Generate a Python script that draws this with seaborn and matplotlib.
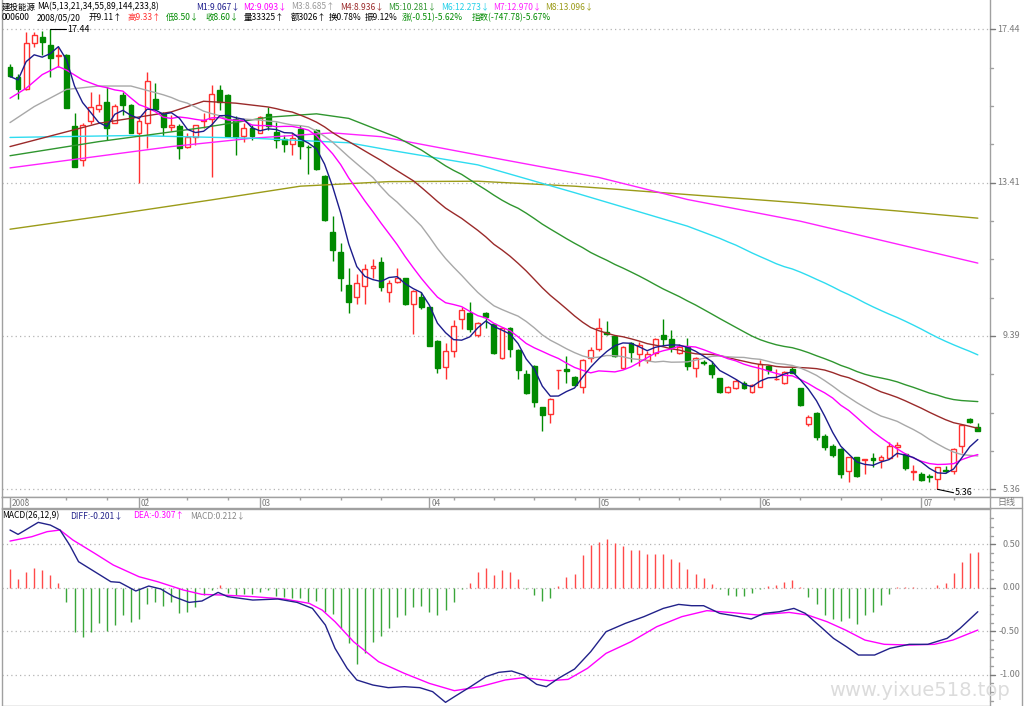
import numpy as np
import pandas as pd
import matplotlib
matplotlib.use("Agg")
import matplotlib.pyplot as plt
import seaborn as sns
from matplotlib.lines import Line2D

sns.set_theme(style="white")
plt.rcParams['font.family'] = ['Noto Sans CJK SC', 'DejaVu Sans']
plt.rcParams['axes.unicode_minus'] = False

# ---------------- data ----------------
opens = [16.46, 16.20, 15.86, 17.09, 17.25, 17.03, 16.74, 16.77, 14.91, 14.01,
         15.04, 15.34, 15.54, 14.99, 15.71, 15.45, 14.72, 14.99, 15.62, 15.21,
         14.88, 14.90, 14.36, 14.60, 15.02, 15.08, 15.85, 15.71, 15.08, 14.65,
         14.86, 14.72, 15.22, 14.74, 14.55, 14.43, 14.83, 14.36, 14.80, 13.59,
         12.11, 11.60, 10.73, 10.42, 10.71, 11.16, 11.34, 10.53, 10.80, 10.90,
         10.22, 10.42, 10.14, 9.26, 8.56, 8.99, 9.82, 10.00, 9.41, 9.98,
         9.70, 8.80, 9.59, 9.02, 8.38, 8.60, 7.51, 7.33, 8.49, 8.52,
         8.32, 8.04, 8.80, 9.04, 9.50, 9.39, 8.54, 9.21, 8.91, 8.75,
         8.95, 9.41, 9.30, 8.93, 9.11, 8.54, 8.70, 8.62, 8.28, 7.92,
         8.03, 8.16, 7.92, 8.05, 8.60, 8.25, 8.14, 8.51, 8.01, 7.08,
         7.37, 6.75, 6.50, 6.42, 5.85, 6.20, 6.13, 6.19, 6.14, 6.19,
         6.48, 6.29, 5.82, 5.76, 5.71, 5.62, 5.86, 5.84, 6.50, 7.20,
         7.00]
highs = [16.53, 16.27, 17.37, 17.37, 17.40, 17.44, 16.98, 16.78, 15.23, 14.97,
         15.80, 15.74, 15.92, 15.48, 15.80, 15.48, 15.10, 16.33, 16.02, 15.28,
         15.19, 14.95, 14.71, 14.93, 15.25, 15.99, 15.98, 15.73, 15.15, 14.97,
         14.92, 15.15, 15.39, 15.01, 14.67, 14.72, 14.92, 14.40, 14.81, 13.61,
         12.54, 11.84, 11.16, 11.01, 11.28, 11.41, 11.45, 10.86, 11.16, 10.92,
         10.60, 10.55, 10.16, 9.28, 9.19, 9.81, 10.14, 10.29, 9.76, 10.02,
         9.72, 9.63, 9.63, 9.04, 8.49, 8.62, 7.53, 7.75, 8.50, 8.86,
         8.34, 8.77, 9.11, 9.87, 9.79, 9.41, 9.12, 9.24, 9.24, 9.00,
         9.33, 9.82, 9.55, 9.18, 9.33, 8.84, 8.76, 8.73, 8.29, 8.07,
         8.25, 8.20, 8.13, 8.76, 8.62, 8.51, 8.47, 8.58, 8.03, 7.30,
         7.40, 6.80, 6.55, 6.44, 6.22, 6.22, 6.15, 6.31, 6.27, 6.60,
         6.61, 6.32, 6.00, 5.82, 5.76, 5.95, 5.97, 6.44, 7.08, 7.23,
         7.11]
lows = [16.18, 15.62, 15.84, 16.98, 16.77, 16.18, 16.46, 15.36, 13.82, 13.86,
        14.95, 15.28, 14.53, 14.97, 15.19, 14.71, 13.40, 14.32, 15.32, 14.64,
        14.77, 14.03, 14.32, 14.40, 14.84, 13.57, 15.32, 14.62, 14.13, 14.49,
        14.53, 14.71, 14.80, 14.32, 14.23, 14.14, 14.03, 13.64, 13.75, 12.41,
        11.36, 10.58, 9.98, 10.23, 10.23, 10.90, 10.58, 10.29, 10.77, 10.20,
        9.44, 10.09, 9.12, 8.42, 8.25, 8.83, 9.56, 9.50, 9.35, 9.60,
        8.91, 8.78, 8.83, 8.25, 7.86, 7.51, 6.90, 7.11, 8.00, 8.16,
        8.07, 7.88, 8.69, 9.00, 9.41, 8.83, 8.52, 8.69, 8.60, 8.67,
        8.86, 9.12, 8.96, 8.91, 8.50, 8.30, 8.63, 8.28, 7.90, 7.90,
        7.99, 7.99, 7.88, 8.04, 8.39, 8.23, 8.12, 8.41, 7.55, 7.02,
        6.65, 6.40, 6.20, 5.65, 5.56, 5.69, 5.75, 5.94, 5.92, 6.16,
        6.20, 5.88, 5.60, 5.59, 5.56, 5.36, 5.80, 5.75, 6.31, 7.09,
        6.88]
closes = [16.21, 15.86, 17.09, 17.28, 17.10, 16.68, 16.77, 15.37, 13.83, 14.93,
          15.39, 15.45, 14.84, 15.43, 15.45, 14.72, 15.04, 16.07, 15.34, 14.88,
          14.92, 14.32, 14.60, 14.92, 15.05, 15.74, 15.54, 14.64, 14.62, 14.84,
          14.64, 15.13, 14.90, 14.53, 14.43, 14.59, 14.37, 14.34, 13.77, 12.43,
          11.65, 10.90, 10.27, 10.79, 11.15, 11.22, 10.66, 10.79, 10.90, 10.23,
          10.57, 10.14, 9.13, 8.54, 8.99, 9.65, 10.07, 9.56, 9.73, 9.89,
          8.93, 9.59, 9.04, 8.48, 7.88, 7.64, 7.31, 7.72, 8.50, 8.47,
          8.10, 8.75, 9.02, 9.60, 9.43, 8.86, 9.11, 8.97, 9.15, 8.91,
          9.30, 9.32, 9.09, 9.11, 8.60, 8.81, 8.68, 8.39, 7.92, 8.04,
          8.21, 8.01, 8.10, 8.64, 8.48, 8.26, 8.45, 8.42, 7.57, 7.25,
          6.73, 6.47, 6.26, 5.76, 6.20, 5.70, 6.15, 6.14, 6.20, 6.51,
          6.53, 5.91, 5.83, 5.60, 5.68, 5.94, 5.84, 6.41, 7.05, 7.14,
          6.90]

# moving-average values before enough candles exist
ma_periods = [5, 13, 21, 34, 55, 89, 144, 233]
ma5_head_i, ma5_head_v = [0, 1, 2, 3], [16.20, 16.11, 16.59, 16.77]
ma13_head_i, ma13_head_v = [0, 2, 4, 6, 7, 9, 11], [15.63, 15.89, 16.25, 16.46, 16.37, 16.11, 15.95]
ma21_head_i, ma21_head_v = [0, 3, 7, 11, 15, 19], [14.99, 15.41, 15.86, 15.95, 15.95, 15.72]
ma34_head_i, ma34_head_v = [0, 11, 20, 24, 28, 32], [14.36, 14.97, 15.27, 15.55, 15.50, 15.40]
ma55_head_i, ma55_head_v = [0, 11, 24, 32, 38, 42, 48, 51], [14.12, 14.49, 14.86, 15.13, 15.22, 15.10, 14.60, 14.27]
ma89_head_i, ma89_head_v = [0, 15, 30, 42, 47, 58, 70, 84], [14.60, 14.65, 14.58, 14.46, 14.27, 13.88, 13.15, 12.27]
ma144_i = [0, 10, 20, 30, 40, 46, 58, 73, 84, 98, 110, 120]
ma144_v = [13.80, 14.08, 14.36, 14.58, 14.72, 14.62, 14.14, 13.55, 12.97, 12.40, 11.80, 11.30]
ma233_i = [0, 12, 25, 36, 47, 58, 70, 84, 98, 110, 120]
ma233_v = [12.19, 12.55, 12.96, 13.32, 13.44, 13.45, 13.32, 13.10, 12.88, 12.67, 12.48]

# MACD panel
diff_i = [0, 1, 3.5, 5, 6.2, 7.4, 8.5, 10.5, 12.5, 13.6, 15.6, 17.2, 18.7, 20.3, 22.2, 23.8, 25.8, 27,
          30.1, 33.2, 35.6, 37.5, 39.1, 40.3, 41.8, 43, 45, 46.9, 48.9, 50.8, 52.4, 54, 55.1, 57.1,
          59, 60.6, 62.2, 63.7, 65.3, 66.5, 68, 70, 72, 73.9, 76.3, 78.6, 81, 82.9, 84.5, 86, 88, 90,
          91.9, 93.5, 95.4, 97.2, 98.6, 100.5, 102.1, 103.7, 105.2, 107.2, 109.1, 111.5, 113.8,
          116.2, 117.8, 120]
diff_v = [0.663, 0.613, 0.751, 0.720, 0.663, 0.490, 0.299, 0.184, 0.069, 0.061, -0.038, 0.019,
          -0.015, -0.103, -0.169, -0.153, -0.054, -0.103, -0.142, -0.130, -0.169, -0.238, -0.429,
          -0.697, -0.927, -1.061, -1.119, -1.149, -1.138, -1.149, -1.195, -1.318, -1.253, -1.138,
          -1.023, -0.973, -0.958, -1.004, -1.111, -1.138, -1.042, -0.935, -0.736, -0.506, -0.410,
          -0.333, -0.238, -0.192, -0.207, -0.207, -0.295, -0.326, -0.360, -0.295, -0.276, -0.238,
          -0.295, -0.448, -0.582, -0.678, -0.774, -0.774, -0.697, -0.651, -0.651, -0.582, -0.467,
          -0.276]
dea_i = [0, 2.7, 4.6, 6.2, 7.8, 10.5, 12.8, 16, 18.3, 21.5, 23.8, 26.2, 30.1, 34, 37.1, 38.7, 40.3,
         42.6, 45.7, 48.9, 52, 55.1, 58.3, 61.4, 63.7, 66.9, 69.2, 71.6, 73.9, 77, 80.2, 83.3, 86.4,
         89.6, 92.7, 96.6, 98.9, 101.3, 103.6, 106, 108.4, 111.5, 114.6, 116.9, 120]
dea_v = [0.536, 0.586, 0.644, 0.663, 0.548, 0.395, 0.261, 0.126, 0.069, -0.027, -0.077, -0.084,
         -0.103, -0.130, -0.180, -0.257, -0.391, -0.621, -0.851, -0.985, -1.100, -1.184, -1.138,
         -1.061, -1.034, -1.069, -1.054, -0.927, -0.755, -0.621, -0.448, -0.333, -0.264, -0.287,
         -0.314, -0.284, -0.314, -0.391, -0.487, -0.602, -0.651, -0.659, -0.651, -0.602, -0.487]
macd_hist = [.215, .100, .176, .222, .203, .146, .057, -.161, -.506, -.563,
             -.513, -.410, -.498, -.429, -.314, -.391, -.360, -.192, -.161, -.207,
             -.161, -.295, -.276, -.218, -.084, -.027, .031, -.065, -.084, -.077,
             -.077, -.054, -.027, -.096, -.103, -.123, -.123, -.161, -.153, -.276,
             -.306, -.467, -.640, -.881, -.755, -.628, -.552, -.460, -.333, -.314,
             -.218, -.207, -.276, -.314, -.257, -.169, -.010, .057, .184, .230,
             .146, .203, .176, .100, -.010, -.084, -.153, -.115, .023, .119,
             .153, .375, .490, .529, .559, .510, .483, .433, .433, .383,
             .383, .383, .330, .291, .212, .153, .115, .038, -.019, -.084,
             -.092, -.092, -.065, -.015, .023, .031, .069, .088, .004, -.103,
             -.192, -.314, -.360, -.383, -.352, -.421, -.314, -.276, -.199, -.073,
             .004, .011, .004, -.008, -.008, .031, .057, .165, .299, .395,
             .414]

price_levels = [17.44, 13.41, 9.39, 5.36]
price_labels = ["17.44", "13.41", "9.39", "5.36"]
macd_levels = [0.50, 0.00, -0.50, -1.00]
macd_labels = ["0.50", "0.00", "-0.50", "-1.00"]
month_idx = [0, 16, 31, 52, 73, 93, 113]
month_labels = ["2008", "02", "03", "04", "05", "06", "07"]
minor_idx = [2, 7, 12, 17, 22, 27, 36, 41, 46, 55, 60, 65, 70, 78, 83, 88, 98, 103, 108, 117]

# ---------------- styling ----------------
W, H = 1024, 706
RED = '#ff3030'
GRN = '#008a00'
FRAME = '#a0a0a0'
LBL = '#7a7a7a'
ma_colors = ['#1c1c8c', '#ff00ff', '#a8a8a8', '#9a2a2a', '#2f962f', '#2edcf0', '#ff22ff', '#9b9b18']

fig = plt.figure(figsize=(W / 100, H / 100), dpi=100)
fig.patch.set_facecolor('white')


def add_ax(l, t, r, b):
    a = fig.add_axes([l / W, 1 - b / H, (r - l) / W, (b - t) / H])
    a.set_facecolor('white')
    for s in a.spines.values():
        s.set_color(FRAME)
        s.set_linewidth(1)
    a.set_xticks([])
    a.set_yticks([])
    return a


XMIN, XMAX = -0.992, 121.51
ax = add_ax(2, 0, 990, 497)
ax.spines['top'].set_visible(False)
ax.set_xlim(XMIN, XMAX)
ax.set_ylim(5.158, 18.209)

axd = add_ax(2, 497, 990, 508)
axd.set_xlim(XMIN, XMAX)
axd.set_ylim(0, 1)

axm = add_ax(2, 509, 990, 706)
axm.set_xlim(XMIN, XMAX)
axm.set_ylim(-1.360, 0.9046)

# grid lines
for lv in price_levels:
    ax.axhline(lv, color='#b4b4b4', lw=0.9, ls=(0, (1, 2.5)), zorder=1)
for lv in macd_levels:
    axm.axhline(lv, color='#b4b4b4', lw=0.9, ls=(0, (1, 2.5)), zorder=1)

# candles
idx = np.arange(len(closes))
o, h, l, c = map(np.array, (opens, highs, lows, closes))
up = c >= o
ax.vlines(idx[up], l[up], h[up], color=RED, lw=1, zorder=2)
ax.vlines(idx[~up], l[~up], h[~up], color=GRN, lw=1, zorder=2)
bb = np.minimum(o, c)
bh = np.maximum(np.abs(c - o), 0.015)
ax.bar(idx[up], bh[up], bottom=bb[up], width=0.6, facecolor='white', edgecolor=RED, lw=1, zorder=3)
ax.bar(idx[~up], bh[~up], bottom=bb[~up], width=0.6, facecolor=GRN, edgecolor=GRN, lw=1, zorder=3)

# moving averages
cl = pd.Series(closes)
heads = {5: (ma5_head_i, ma5_head_v), 13: (ma13_head_i, ma13_head_v), 21: (ma21_head_i, ma21_head_v),
         34: (ma34_head_i, ma34_head_v), 55: (ma55_head_i, ma55_head_v), 89: (ma89_head_i, ma89_head_v),
         144: (ma144_i, ma144_v), 233: (ma233_i, ma233_v)}
for n, col in zip(ma_periods[::-1], ma_colors[::-1]):
    hi, hv = heads[n]
    xs, ys = list(hi), list(hv)
    if n <= len(closes):
        comp = cl.rolling(n).mean()
        xs += list(idx[n - 1:])
        ys += list(comp.values[n - 1:])
    sns.lineplot(x=xs, y=ys, ax=ax, color=col, lw=1, sort=False, estimator=None, legend=False, zorder=4)

# extreme markers
ax.plot([5, 7], [17.44, 17.44], color='black', lw=0.8, zorder=5)
ax.text(7.1, 17.44, "17.44", fontsize=6.5, color='black', va='center', ha='left', zorder=5)
ax.plot([115, 117], [5.36, 5.27], color='black', lw=0.8, zorder=5)
ax.text(117.1, 5.27, "5.36", fontsize=6.5, color='black', va='center', ha='left', zorder=5)

# MACD
hv = np.array(macd_hist)
axm.vlines(idx[hv >= 0], 0, hv[hv >= 0], color='#ff4a4a', lw=1, zorder=2)
axm.vlines(idx[hv < 0], 0, hv[hv < 0], color='#3aa63a', lw=1, zorder=2)
sns.lineplot(x=dea_i, y=dea_v, ax=axm, color='#ff00ff', lw=1, sort=False, estimator=None, legend=False, zorder=3)
sns.lineplot(x=diff_i, y=diff_v, ax=axm, color='#22228a', lw=1, sort=False, estimator=None, legend=False, zorder=4)

# date strip
for mi, ml in zip(month_idx, month_labels):
    axd.vlines(mi, 0, 1, color=FRAME, lw=1)
    axd.text(mi + 0.25, 0.45, ml, fontsize=6, color=LBL, va='center', ha='left')
axd.vlines(minor_idx, 0.72, 1, color=FRAME, lw=1)

for a in (ax, axd, axm):
    a.set_xlabel('')
    a.set_ylabel('')

# right axis ticks and labels
def ypx_price(p):
    return 29.3 + (17.44 - p) / 0.02626


def ypx_macd(v):
    return 587.7 - v * 87


def fline(x0, y0, x1, y1, col=FRAME, lw=1):
    fig.add_artist(Line2D([x0 / W, x1 / W], [1 - y0 / H, 1 - y1 / H], color=col, lw=lw,
                          transform=fig.transFigure))


for lv, lb in zip(price_levels, price_labels):
    y = ypx_price(lv)
    fline(990, y, 995, y, LBL)
    fig.text(1020 / W, 1 - y / H, lb, fontsize=6.5, color=LBL, ha='right', va='center')
for k in range(1, 12):
    if k % 4 == 0:
        continue
    y = ypx_price(17.44 - k * (17.44 - 5.36) / 12)
    fline(990, y, 993, y, FRAME)
for lv, lb in zip(macd_levels, macd_labels):
    y = ypx_macd(lv)
    fline(990, y, 995, y, LBL)
    fig.text(1020 / W, 1 - y / H, lb, fontsize=6.5, color=LBL, ha='right', va='center')
for v in np.arange(0.8, -1.31, -0.1):
    if abs(round(v * 2) - v * 2) < 1e-6:
        continue
    y = ypx_macd(v)
    fline(990, y, 993, y, FRAME)

# right box frame and 日线
fline(990, 497, 1022, 497)
fline(990, 508, 1022, 508)
fline(1022, 497, 1022, 706)
fig.text(1006 / W, 1 - 502.5 / H, "日线", fontsize=6.5, color=LBL, ha='center', va='center')

# header texts
def pieces(items, y, fs=6.1):
    for x, s, col in items:
        fig.text(x / W, 1 - y / H, s, fontsize=fs, color=col, ha='left', va='center')


pieces([(2, "建投能源", 'black'), (37, "MA(5,13,21,34,55,89,144,233,8)", 'black'),
        (196, "M1:9.067↓", ma_colors[0]), (243, "M2:9.093↓", ma_colors[1]),
        (291, "M3:8.685↑", '#999999'), (340, "M4:8.936↓", ma_colors[3]),
        (388, "M5:10.281↓", ma_colors[4]), (441, "M6:12.273↓", '#22d0e8'),
        (493, "M7:12.970↓", ma_colors[6]), (545, "M8:13.096↓", ma_colors[7])], 7)
pieces([(2, "000600", 'black'), (37, "2008/05/20", 'black'), (89, "开9.11↑", 'black'),
        (127, "高9.33↑", RED), (166, "低8.50↓", GRN), (205, "收8.60↓", GRN),
        (244, "量33325↑", 'black'), (291, "额3026↑", 'black'), (329, "换0.78%", 'black'),
        (365, "振9.12%", 'black'), (402, "涨(-0.51)-5.62%", GRN),
        (472, "指数(-747.78)-5.67%", GRN)], 17.5)
pieces([(2, "MACD(26,12,9)", 'black'), (70, "DIFF:-0.201↓", '#22228a'),
        (133, "DEA:-0.307↑", '#ff00ff'), (190, "MACD:0.212↓", '#888888')], 515.5)

fig.text(1010 / W, 1 - 690 / H, "www.yixue518.top", fontsize=14, color='#dcdcdc',
         ha='right', va='center', family=['DejaVu Sans'])

fig.savefig("out.png", dpi=100, facecolor='white')
